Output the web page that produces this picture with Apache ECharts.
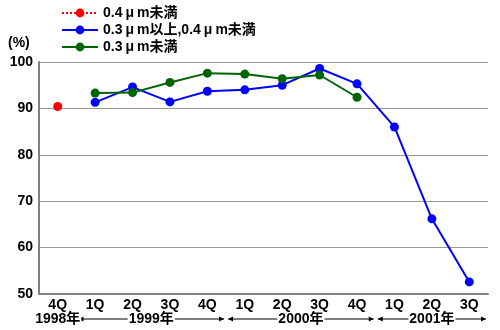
<!DOCTYPE html>
<html><head><meta charset="utf-8">
<script src="https://cdn.jsdelivr.net/npm/echarts@6/dist/echarts.min.js"></script>
<style>html,body{margin:0;padding:0;background:#fff}#c{width:500px;height:330px}</style>
</head><body><div id="c"></div>
<script>
var categories = ['4Q','1Q','2Q','3Q','4Q','1Q','2Q','3Q','4Q','1Q','2Q','3Q'];
var seriesNames = ['0.4μm未満','0.3μm以上,0.4μm未満','0.3μm未満'];
var under04 = [90.4, null, null, null, null, null, null, null, null, null, null, null];
var between = [null, 91.3, 94.6, 91.4, 93.7, 94.0, 95.0, 98.6, 95.3, 86.0, 66.2, 52.6];
var under03 = [null, 93.3, 93.4, 95.6, 97.6, 97.4, 96.4, 97.2, 92.4, null, null, null];
var yearLabels = ['1998年','1999年','2000年','2001年'];
var yearSpans = [[0,0],[1,4],[5,8],[9,11]];

var FONT = "'Liberation Sans', Arial, 'Noto Sans CJK JP', sans-serif";
var chart = echarts.init(document.getElementById('c'));
function mk(name, data, color, dash){
  return {name:name, type:'line', data:data, color:color, symbol:'circle', symbolSize:9,
    lineStyle:{width:2, color:color, type:dash||'solid'}, itemStyle:{color:color}, connectNulls:false, animation:false};
}
chart.setOption({
  animation:false,
  textStyle:{fontFamily:FONT},
  grid:{left:39, right:12, top:62, bottom:36},
  legend:{orient:'vertical', left:56, top:0, itemGap:1, itemWidth:36, itemHeight:11,
    textStyle:{fontFamily:FONT, fontWeight:'bold', fontSize:14, color:'#000', lineHeight:16,
      rich:{u:{fontFamily:FONT, fontWeight:'bold', fontSize:14, color:'#000', padding:[0,3,0,3]}}},
    formatter:function(n){ return n.replace(/μ/g,'{u|μ}'); },
    data:seriesNames},
  xAxis:{type:'category', data:categories, boundaryGap:true,
    axisLine:{lineStyle:{color:'#808080', width:2}},
    axisTick:{inside:true, length:5, lineStyle:{color:'#555'}},
    axisLabel:{fontFamily:FONT, fontWeight:'bold', fontSize:14, color:'#000', margin:4}},
  yAxis:{type:'value', min:50, max:100, interval:10,
    axisLine:{show:true, lineStyle:{color:'#808080', width:2}},
    axisTick:{show:false},
    splitLine:{lineStyle:{color:'#999', width:1}},
    axisLabel:{fontFamily:FONT, fontWeight:'bold', fontSize:14, color:'#000', margin:6}},
  series:[mk(seriesNames[0], under04, '#ff0000', 'dotted'), mk(seriesNames[1], between, '#0000ff'), mk(seriesNames[2], under03, '#006400')]
});

function drawYears(){
  var g = [];
  g.push({type:'text', left:8, top:36, style:{text:'(%)', font:'bold 14px '+FONT, fill:'#000'}});
  var y = 319;
  var half = chart.convertToPixel({xAxisIndex:0}, 1) - chart.convertToPixel({xAxisIndex:0}, 0);
  for (var i=0;i<yearLabels.length;i++){
    var a = chart.convertToPixel({xAxisIndex:0}, yearSpans[i][0]);
    var b = chart.convertToPixel({xAxisIndex:0}, yearSpans[i][1]);
    var cx = (a+b)/2;
    if (i>0){
      var x0 = a - half/2 + 2, x1 = b + half/2 - 2;
      g.push({type:'line', shape:{x1:x0, y1:y, x2:x1, y2:y}, style:{stroke:'#000', lineWidth:1}});
      g.push({type:'polygon', shape:{points:[[x0,y],[x0+5,y-2.5],[x0+5,y+2.5]]}, style:{fill:'#000'}});
      g.push({type:'polygon', shape:{points:[[x1,y],[x1-5,y-2.5],[x1-5,y+2.5]]}, style:{fill:'#000'}});
    }
    g.push({type:'text', x:cx, y:y, style:{text:yearLabels[i], font:'bold 14px '+FONT, fill:'#000', align:'center', verticalAlign:'middle', backgroundColor:'#fff', padding:[0,1]}, z:10});
  }
  chart.setOption({graphic:g});
}
drawYears();
</script></body></html>
